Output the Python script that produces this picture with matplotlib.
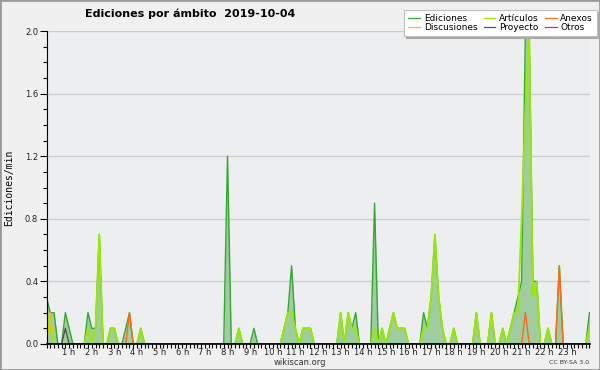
import numpy as np
import matplotlib
matplotlib.use('Agg')
import matplotlib.pyplot as plt
from matplotlib.ticker import MultipleLocator, FixedLocator, FormatStrFormatter

# edits/min, 10-minute bins from 00:00 to 24:00 (145 points)
ediciones = [0.3, 0.2, 0.2, 0, 0, 0.2, 0.1, 0, 0, 0, 0, 0.2,
             0.1, 0.1, 0.7, 0, 0, 0.1, 0.1, 0, 0, 0.1, 0.2, 0,
             0, 0.1, 0, 0, 0, 0, 0, 0, 0, 0, 0, 0,
             0, 0, 0, 0, 0, 0, 0, 0, 0, 0, 0, 0,
             1.2, 0, 0, 0.1, 0, 0, 0, 0.1, 0, 0, 0, 0,
             0, 0, 0, 0.1, 0.2, 0.5, 0.1, 0, 0.1, 0.1, 0.1, 0,
             0, 0, 0, 0, 0, 0, 0.2, 0, 0.2, 0.1, 0.2, 0,
             0, 0, 0, 0.9, 0, 0.1, 0, 0.1, 0.2, 0.1, 0.1, 0.1,
             0, 0, 0, 0, 0.2, 0.1, 0.3, 0.7, 0.3, 0.1, 0, 0,
             0.1, 0, 0, 0, 0, 0, 0.2, 0, 0, 0, 0.2, 0,
             0, 0.1, 0, 0.1, 0.2, 0.3, 0.4, 2.0, 2.0, 0.4, 0.4, 0,
             0, 0.1, 0, 0, 0.5, 0, 0, 0, 0, 0, 0, 0,
             0.2]
articulos = [0.2, 0.1, 0, 0, 0, 0, 0, 0, 0, 0, 0, 0.1,
             0, 0.1, 0.7, 0, 0, 0.1, 0.1, 0, 0, 0, 0, 0,
             0, 0.1, 0, 0, 0, 0, 0, 0, 0, 0, 0, 0,
             0, 0, 0, 0, 0, 0, 0, 0, 0, 0, 0, 0,
             0, 0, 0, 0.1, 0, 0, 0, 0, 0, 0, 0, 0,
             0, 0, 0, 0.1, 0.2, 0.2, 0.1, 0, 0.1, 0.1, 0.1, 0,
             0, 0, 0, 0, 0, 0, 0.2, 0, 0.2, 0.1, 0.1, 0,
             0, 0, 0, 0.1, 0, 0.1, 0, 0.1, 0.2, 0.1, 0.1, 0.1,
             0, 0, 0, 0, 0.1, 0.1, 0.3, 0.7, 0.3, 0.1, 0, 0,
             0.1, 0, 0, 0, 0, 0, 0.2, 0, 0, 0, 0.2, 0,
             0, 0.1, 0, 0.1, 0.2, 0.2, 0.8, 1.5, 2.0, 0.3, 0.4, 0,
             0, 0.1, 0, 0, 0, 0, 0, 0, 0, 0, 0, 0,
             0.1]
discusiones = [0, 0.2, 0, 0, 0, 0, 0, 0, 0, 0, 0, 0,
               0, 0, 0, 0, 0, 0, 0, 0, 0, 0, 0, 0,
               0, 0, 0, 0, 0, 0, 0, 0, 0, 0, 0, 0,
               0, 0, 0, 0, 0, 0, 0, 0, 0, 0, 0, 0,
               0, 0, 0, 0, 0, 0, 0, 0, 0, 0, 0, 0,
               0, 0, 0, 0, 0, 0, 0, 0, 0, 0, 0, 0,
               0, 0, 0, 0, 0, 0, 0, 0, 0, 0, 0, 0,
               0, 0, 0, 0, 0, 0, 0, 0, 0, 0, 0, 0,
               0, 0, 0, 0, 0, 0, 0, 0, 0, 0, 0, 0,
               0, 0, 0, 0, 0, 0, 0, 0, 0, 0, 0, 0,
               0, 0, 0, 0, 0, 0, 0, 0, 0, 0, 0, 0,
               0, 0, 0, 0, 0, 0, 0, 0, 0, 0, 0, 0,
               0.1]
anexos = [0, 0, 0, 0, 0, 0, 0, 0, 0, 0, 0, 0,
          0, 0, 0, 0, 0, 0, 0, 0, 0, 0, 0.2, 0,
          0, 0, 0, 0, 0, 0, 0, 0, 0, 0, 0, 0,
          0, 0, 0, 0, 0, 0, 0, 0, 0, 0, 0, 0,
          0, 0, 0, 0, 0, 0, 0, 0, 0, 0, 0, 0,
          0, 0, 0, 0, 0, 0, 0, 0, 0, 0, 0, 0,
          0, 0, 0, 0, 0, 0, 0, 0, 0, 0, 0, 0,
          0, 0, 0, 0, 0, 0, 0, 0, 0, 0, 0, 0,
          0, 0, 0, 0, 0, 0, 0, 0, 0, 0, 0, 0,
          0, 0, 0, 0, 0, 0, 0, 0, 0, 0, 0, 0,
          0, 0, 0, 0, 0, 0, 0, 0.2, 0, 0, 0, 0,
          0, 0, 0, 0, 0.5, 0, 0, 0, 0, 0, 0, 0,
          0]
proyecto = [0, 0, 0, 0, 0, 0.1, 0, 0, 0, 0, 0, 0,
            0, 0, 0, 0, 0, 0, 0, 0, 0, 0, 0, 0,
            0, 0, 0, 0, 0, 0, 0, 0, 0, 0, 0, 0,
            0, 0, 0, 0, 0, 0, 0, 0, 0, 0, 0, 0,
            0, 0, 0, 0, 0, 0, 0, 0, 0, 0, 0, 0,
            0, 0, 0, 0, 0, 0, 0, 0, 0, 0, 0, 0,
            0, 0, 0, 0, 0, 0, 0, 0, 0, 0, 0, 0,
            0, 0, 0, 0, 0, 0, 0, 0, 0, 0, 0, 0,
            0, 0, 0, 0, 0, 0, 0, 0, 0, 0, 0, 0,
            0, 0, 0, 0, 0, 0, 0, 0, 0, 0, 0, 0,
            0, 0, 0, 0, 0, 0, 0, 0, 0, 0, 0, 0,
            0, 0, 0, 0, 0, 0, 0, 0, 0, 0, 0, 0,
            0]
otros = [0, 0, 0, 0, 0, 0, 0, 0, 0, 0, 0, 0,
         0, 0, 0, 0, 0, 0, 0, 0, 0, 0, 0, 0,
         0, 0, 0, 0, 0, 0, 0, 0, 0, 0, 0, 0,
         0, 0, 0, 0, 0, 0, 0, 0, 0, 0, 0, 0,
         0, 0, 0, 0, 0, 0, 0, 0, 0, 0, 0, 0,
         0, 0, 0, 0, 0, 0, 0, 0, 0, 0, 0, 0,
         0, 0, 0, 0, 0, 0, 0, 0, 0, 0, 0, 0,
         0, 0, 0, 0, 0, 0, 0, 0, 0, 0, 0, 0,
         0, 0, 0, 0, 0, 0, 0, 0, 0, 0, 0, 0,
         0, 0, 0, 0, 0, 0, 0, 0, 0, 0, 0, 0,
         0, 0, 0, 0, 0, 0, 0, 0, 0, 0, 0, 0,
         0, 0, 0, 0, 0, 0, 0, 0, 0, 0, 0, 0,
         0]

hour_labels = ['%d h' % h for h in range(1, 24)]
title = 'Ediciones por ámbito  2019-10-04'

hours = np.arange(len(ediciones)) / 6.0

fig = plt.figure(figsize=(6, 3.7), dpi=100, facecolor='#f0f0f0')
ax = fig.add_axes([0.0775, 0.0703, 0.905, 0.8457])
ax.set_facecolor('#eceef0')

ax.fill_between(hours, ediciones, 0, color='#9fcd9f', lw=0, zorder=2)
l_ed, = ax.plot(hours, ediciones, color='#33a833', lw=1.0, zorder=3)
l_disc, = ax.plot(hours, discusiones, color='#f2c20c', lw=1.0, zorder=4)
l_art, = ax.plot(hours, articulos, color='#9be800', lw=1.3, zorder=4)
l_anx, = ax.plot(hours, anexos, color='#ff6a1a', lw=1.0, zorder=5)
l_proy, = ax.plot(hours, proyecto, color='#555555', lw=1.0, zorder=5)
l_otr, = ax.plot(hours, otros, color='#9933ee', lw=1.0, zorder=1)

ax.set_xlim(0, 24)
ax.set_ylim(0, 2.0)
ax.yaxis.set_major_locator(MultipleLocator(0.4))
ax.yaxis.set_minor_locator(MultipleLocator(0.1))
ax.yaxis.set_major_formatter(FormatStrFormatter('%.1f'))
ax.xaxis.set_major_locator(FixedLocator(range(1, 24)))
ax.set_xticklabels(hour_labels)
ax.xaxis.set_minor_locator(MultipleLocator(1 / 6.0))
ax.tick_params(axis='both', which='both', direction='out', width=0.8,
               labelsize=6, color='black', labelcolor='#222222')
ax.tick_params(axis='y', which='major', length=5, pad=1)
ax.tick_params(axis='y', which='minor', length=3)
ax.tick_params(axis='x', which='both', length=3, pad=0)
ax.grid(axis='y', color='#cfcfcf', lw=1.0, zorder=0)
ax.set_axisbelow(True)
for s in ['top', 'right']:
    ax.spines[s].set_visible(False)
ax.spines['left'].set_linewidth(0.8)
ax.spines['bottom'].set_linewidth(1.2)
ax.spines['left'].set_zorder(6)
ax.spines['bottom'].set_zorder(6)

ax.set_ylabel('Ediciones/min', family='DejaVu Sans Mono', fontsize=7, labelpad=8)

fig.text(0.142, 0.962, title, fontsize=8, fontweight='bold', ha='left', va='center')
fig.text(0.5, 0.019, 'wikiscan.org', fontsize=6, ha='center', va='center', color='#333333')
fig.text(0.982, 0.019, 'CC BY-SA 3.0', fontsize=4.5, ha='right', va='center', color='#333333')

leg = fig.legend([l_ed, l_disc, l_art, l_proy, l_anx, l_otr],
                 ['Ediciones', 'Discusiones', 'Artículos', 'Proyecto', 'Anexos', 'Otros'],
                 loc='upper right', bbox_to_anchor=(0.995, 0.973), ncol=3, fontsize=6.5,
                 frameon=True, fancybox=False,
                 shadow={'color': '#a8a8a8', 'alpha': 1, 'ox': 1.5, 'oy': -1.5},
                 edgecolor='#c0c0c0', handlelength=1.3, handletextpad=0.4,
                 columnspacing=0.7, labelspacing=0.0, borderpad=0.45, borderaxespad=0)
leg.get_frame().set_linewidth(0.8)
for h in leg.legend_handles:
    h.set_linewidth(0.9)

# frame around image
fig.patches.append(plt.Rectangle((0, 0), 1, 1, transform=fig.transFigure, fill=False,
                                 edgecolor='#9a9a9a', lw=2))

fig.savefig('out.png', dpi=100, facecolor=fig.get_facecolor())
